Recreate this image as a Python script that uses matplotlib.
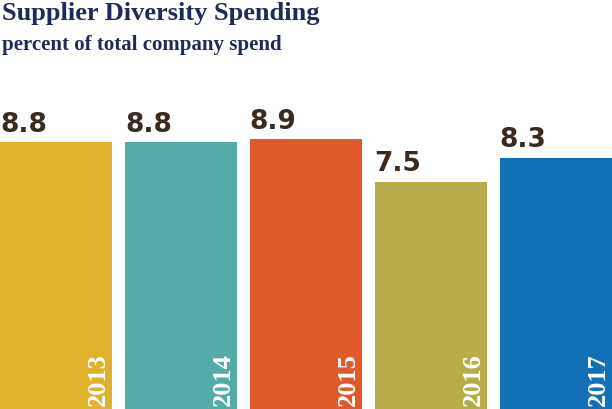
import matplotlib.pyplot as plt

years = ["2013", "2014", "2015", "2016", "2017"]
values = [8.8, 8.8, 8.9, 7.5, 8.3]
colors = ["#E0B12A", "#55ABA6", "#DE5A2A", "#B7AC4C", "#1170B8"]

fig = plt.figure(figsize=(6.12, 4.09), dpi=100)
ax = fig.add_axes([0, 0, 1, 1])
x = list(range(len(years)))
w = 0.9
ax.bar(x, values, width=w, color=colors)
ax.set_xlim(-0.45, 4.45)
ax.set_ylim(0, 13.5)
ax.axis("off")

for xi, v, yr in zip(x, values, years):
    ax.text(xi - w / 2, v + 0.15, f"{v}", ha="left", va="bottom",
            fontsize=19, fontweight="bold", color="#3B2A20", family="DejaVu Sans")
    ax.text(xi + w / 2 - 0.02, 0.1, yr, rotation=90, ha="right", va="bottom",
            fontsize=19, fontweight="bold", color="white", family="Liberation Serif")

fig.text(0.003, 0.995, "Supplier Diversity Spending", ha="left", va="top",
         fontsize=19, fontweight="bold", color="#1F2A5A", family="Liberation Serif")
fig.text(0.003, 0.915, "percent of total company spend", ha="left", va="top",
         fontsize=15, fontweight="bold", color="#1F2A5A", family="Liberation Serif")

fig.savefig("out.png", dpi=100)
